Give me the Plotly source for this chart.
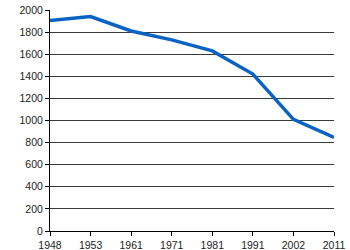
import plotly.graph_objects as go

years = ["1948", "1953", "1961", "1971", "1981", "1991", "2002", "2011"]
values = [1905, 1940, 1810, 1730, 1630, 1420, 1010, 848]

fig = go.Figure()
fig.add_trace(go.Scatter(
    x=years, y=values, mode="lines",
    line=dict(color="#0a63c2", width=3.5),
    cliponaxis=False,
))
fig.update_layout(
    width=350, height=250,
    margin=dict(l=50, r=16, t=10, b=19, autoexpand=False),
    paper_bgcolor="white", plot_bgcolor="white",
    showlegend=False,
    font=dict(family="Liberation Sans, Arial, sans-serif", size=10, color="#222"),
)
fig.update_xaxes(
    type="category", range=[0, 7], automargin=False,
    showgrid=False, showline=True, linecolor="black", linewidth=1,
    ticks="outside", ticklen=4, tickcolor="black",
    tickfont=dict(size=10.5),
)
fig.update_yaxes(
    range=[0, 2000], dtick=200, automargin=False,
    showgrid=True, gridcolor="#3a3a3a", gridwidth=1,
    showline=True, linecolor="black", linewidth=1,
    ticks="outside", ticklen=4, tickcolor="black",
    zeroline=False, tickfont=dict(size=10.5),
)
fig.write_html("out.html")
